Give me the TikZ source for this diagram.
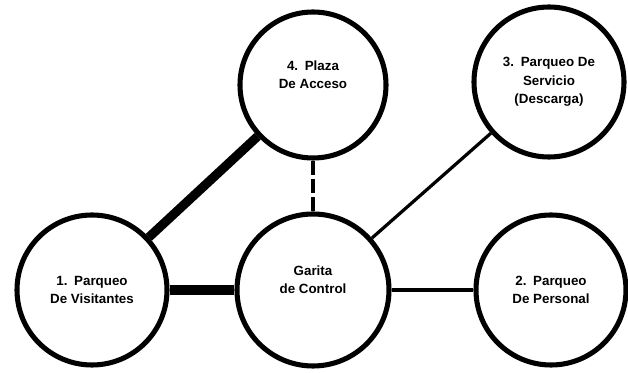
\documentclass[tikz,border=0pt]{standalone}
\usepackage{fontspec}
\setmainfont{Liberation Sans}

\begin{document}
\begin{tikzpicture}[font=\bfseries\fontsize{9.5}{13}\selectfont, align=center,
    zona/.style={draw, circle, line width=3.6pt, minimum size=3.75cm, inner sep=0pt},
    grueso/.style={line width=6.5pt},
    medio/.style={line width=3pt},
    fino/.style={line width=2.3pt},
    discont/.style={line width=3pt, dash pattern=on 10pt off 3pt}
]
    \useasboundingbox (0,0) rectangle (15.7,9.325);
    \node[zona] (visit) at (2.30,2.075) {1.\enspace Parqueo\\De Visitantes};
    \node[zona, minimum size=3.8cm, text depth=15pt] (garita) at (7.825,2.075) {Garita\\de Control};
    \node[zona, minimum size=3.65cm, text depth=15pt] (plaza) at (7.825,7.20) {4.\enspace Plaza\\De Acceso};
    \node[zona] (servicio) at (13.725,7.275) {3.\enspace Parqueo De\\Servicio\\(Descarga)};
    \node[zona] (personal) at (13.775,2.075) {2.\enspace Parqueo\\De Personal};
    \draw[grueso] (visit) -- (plaza);
    \draw[grueso] (visit.east) -- (garita.west);
    \draw[discont] (plaza.south) -- (garita.north);
    \draw[fino] (garita) -- (servicio);
    \draw[medio] (garita.east) -- (personal.west);
\end{tikzpicture}
\end{document}
